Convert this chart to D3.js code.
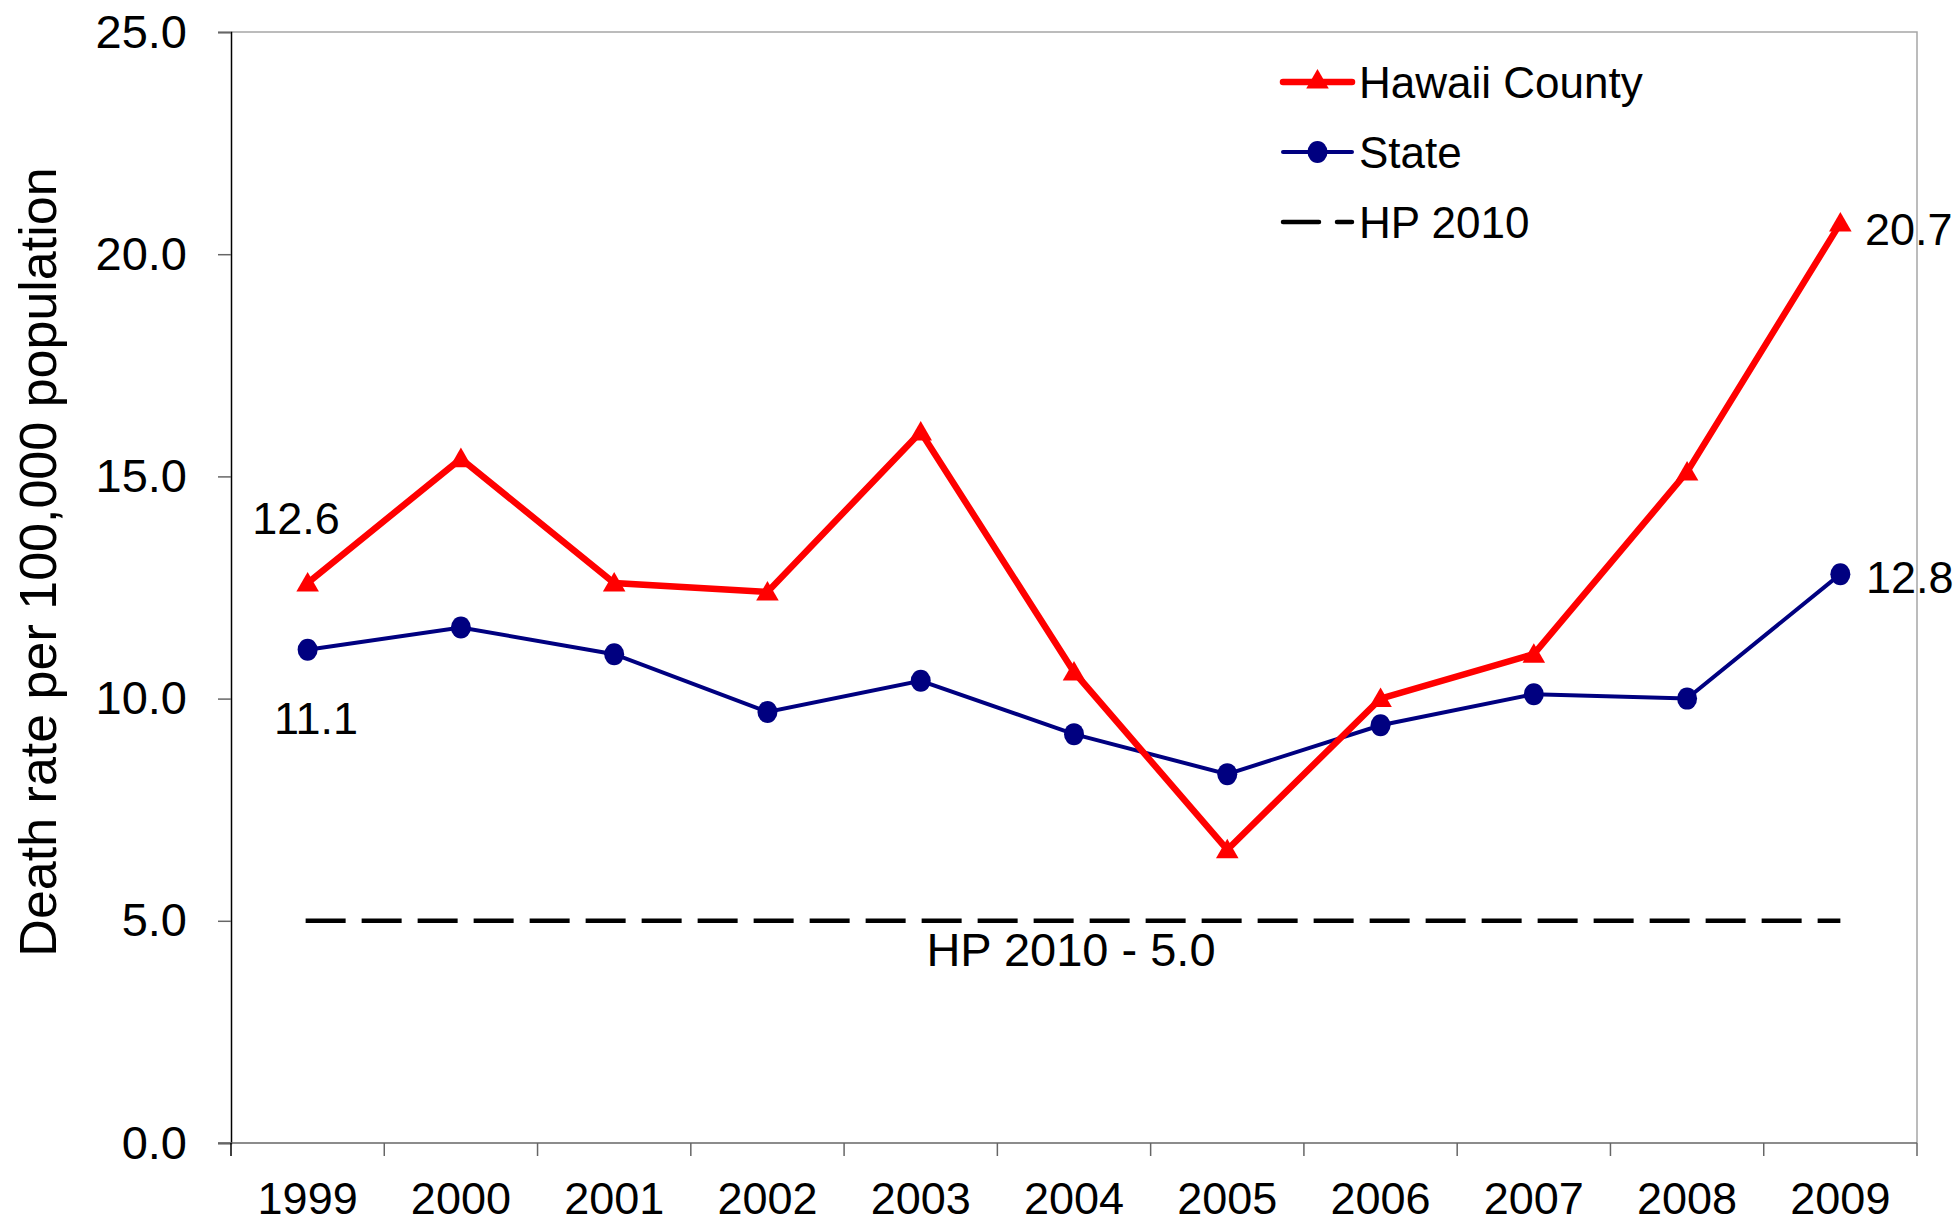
<!DOCTYPE html>
<html>
<head>
<meta charset="utf-8">
<script src="https://cdn.jsdelivr.net/npm/d3@7"></script>
<style>
  body { margin: 0; background: #fff; }
  text { font-family: "Liberation Sans", Arial, sans-serif; }
</style>
</head>
<body>
<svg id="chart" width="1958" height="1225"></svg>
<script>
// chart data
const years = ['1999', '2000', '2001', '2002', '2003', '2004', '2005', '2006', '2007', '2008', '2009'];
const hawaiiCounty = [12.6, 15.4, 12.6, 12.4, 16.0, 10.6, 6.6, 10.0, 11.0, 15.1, 20.7];
const state = [11.1, 11.6, 11.0, 9.7, 10.4, 9.2, 8.3, 9.4, 10.1, 10.0, 12.8];
const hpTarget = 5.0;
const yTicks = [0, 5, 10, 15, 20, 25];
const legendItems = ['Hawaii County', 'State', 'HP 2010'];

const svg = d3.select('#chart');
const plotL = 231, plotR = 1917, plotT = 32, plotB = 1143;

const x = d3.scaleBand().domain(years).range([plotL, plotR]).padding(0);
const y = d3.scaleLinear().domain([0, 25]).range([plotB, plotT]);
const cx = d => x(d) + x.bandwidth() / 2;

// frame (top + right in light gray)
svg.append('path')
  .attr('d', `M${plotL},${plotT}H${plotR}V${plotB}`)
  .attr('fill', 'none')
  .attr('stroke', '#a6a6a6')
  .attr('stroke-width', 1.5);

// y axis
const yAxis = svg.append('g')
  .attr('transform', `translate(${plotL},0)`)
  .call(d3.axisLeft(y).tickValues(yTicks).tickFormat(d3.format('.1f')).tickSize(13).tickPadding(31));
yAxis.select('.domain').attr('stroke', '#000').attr('stroke-width', 1.5);
yAxis.selectAll('.tick line').attr('stroke', '#666').attr('stroke-width', 1.5);
yAxis.selectAll('text').attr('font-size', 47).attr('fill', '#000')
  .attr('font-family', '"Liberation Sans", Arial, sans-serif');

// x axis: labels centred on bands, ticks on band edges
const xAxis = svg.append('g')
  .attr('transform', `translate(0,${plotB})`)
  .call(d3.axisBottom(x).tickSize(0).tickPadding(39));
xAxis.select('.domain').remove();
xAxis.selectAll('text').attr('font-size', 45).attr('fill', '#000')
  .attr('font-family', '"Liberation Sans", Arial, sans-serif');

svg.append('line')
  .attr('x1', plotL - 13).attr('x2', plotR)
  .attr('y1', plotB).attr('y2', plotB)
  .attr('stroke', '#666').attr('stroke-width', 1.5);

svg.append('g').selectAll('line')
  .data(years.concat(['end']))
  .join('line')
  .attr('x1', (d, i) => plotL + i * x.bandwidth())
  .attr('x2', (d, i) => plotL + i * x.bandwidth())
  .attr('y1', plotB).attr('y2', plotB + 13)
  .attr('stroke', (d, i) => i === 0 ? '#000' : '#666')
  .attr('stroke-width', 1.5);

// HP 2010 dashed target line
svg.append('line')
  .attr('x1', cx(years[0]) - 2).attr('x2', cx(years[years.length - 1]))
  .attr('y1', y(hpTarget)).attr('y2', y(hpTarget))
  .attr('stroke', '#000').attr('stroke-width', 4.5)
  .attr('stroke-dasharray', '40,16');

svg.append('text')
  .attr('x', 1071).attr('y', y(hpTarget) + 11)
  .attr('text-anchor', 'middle').attr('dominant-baseline', 'hanging')
  .attr('font-size', 47).text('HP 2010 - ' + d3.format('.1f')(hpTarget));

const line = d3.line().x((d, i) => cx(years[i])).y(d => y(d));

// State series
svg.append('path')
  .datum(state)
  .attr('d', line)
  .attr('fill', 'none').attr('stroke', '#000080').attr('stroke-width', 4);
svg.append('g').selectAll('ellipse')
  .data(state)
  .join('ellipse')
  .attr('cx', (d, i) => cx(years[i])).attr('cy', d => y(d))
  .attr('rx', 10).attr('ry', 11)
  .attr('fill', '#000080');

// Hawaii County series
const tri = d3.symbol().type(d3.symbolTriangle).size(220);
svg.append('path')
  .datum(hawaiiCounty)
  .attr('d', line)
  .attr('fill', 'none').attr('stroke', '#ff0000').attr('stroke-width', 6.5)
  .attr('stroke-linejoin', 'miter');
svg.append('g').selectAll('path')
  .data(hawaiiCounty)
  .join('path')
  .attr('transform', (d, i) => `translate(${cx(years[i])},${y(d) + 2})`)
  .attr('d', tri)
  .attr('fill', '#ff0000');

// value labels
const fmt = d3.format('.1f');
const labels = [
  { v: hawaiiCounty[0], x: 296, y: 518, anchor: 'middle' },
  { v: state[0], x: 316, y: 718, anchor: 'middle' },
  { v: hawaiiCounty[10], x: 1865, y: 229, anchor: 'start' },
  { v: state[10], x: 1866, y: 577, anchor: 'start' }
];
svg.append('g').selectAll('text')
  .data(labels)
  .join('text')
  .attr('x', d => d.x).attr('y', d => d.y)
  .attr('text-anchor', d => d.anchor)
  .attr('dominant-baseline', 'central')
  .attr('font-size', 45)
  .text(d => fmt(d.v));

// y axis title
svg.append('text')
  .attr('transform', 'translate(38,562) rotate(-90)')
  .attr('text-anchor', 'middle').attr('dominant-baseline', 'central')
  .attr('font-size', 52)
  .text('Death rate per 100,000 population');

// legend
const lg = svg.append('g');
const rowY = [82, 152, 222];
const lx0 = 1283, lx1 = 1352;
lg.append('line').attr('x1', lx0).attr('x2', lx1).attr('y1', rowY[0]).attr('y2', rowY[0])
  .attr('stroke', '#ff0000').attr('stroke-width', 6.5).attr('stroke-linecap', 'round');
lg.append('path').attr('transform', `translate(${(lx0 + lx1) / 2},${rowY[0]})`)
  .attr('d', tri).attr('fill', '#ff0000');
lg.append('line').attr('x1', lx0).attr('x2', lx1).attr('y1', rowY[1]).attr('y2', rowY[1])
  .attr('stroke', '#000080').attr('stroke-width', 4).attr('stroke-linecap', 'round');
lg.append('ellipse').attr('cx', (lx0 + lx1) / 2).attr('cy', rowY[1]).attr('rx', 10).attr('ry', 11)
  .attr('fill', '#000080');
lg.append('line').attr('x1', lx0).attr('x2', lx1).attr('y1', rowY[2]).attr('y2', rowY[2])
  .attr('stroke', '#000').attr('stroke-width', 4.5).attr('stroke-dasharray', '36,18')
  .attr('stroke-linecap', 'round');
lg.selectAll('text')
  .data(legendItems)
  .join('text')
  .attr('x', 1359).attr('y', (d, i) => rowY[i])
  .attr('dominant-baseline', 'central')
  .attr('font-size', 44)
  .text(d => d);
</script>
</body>
</html>
